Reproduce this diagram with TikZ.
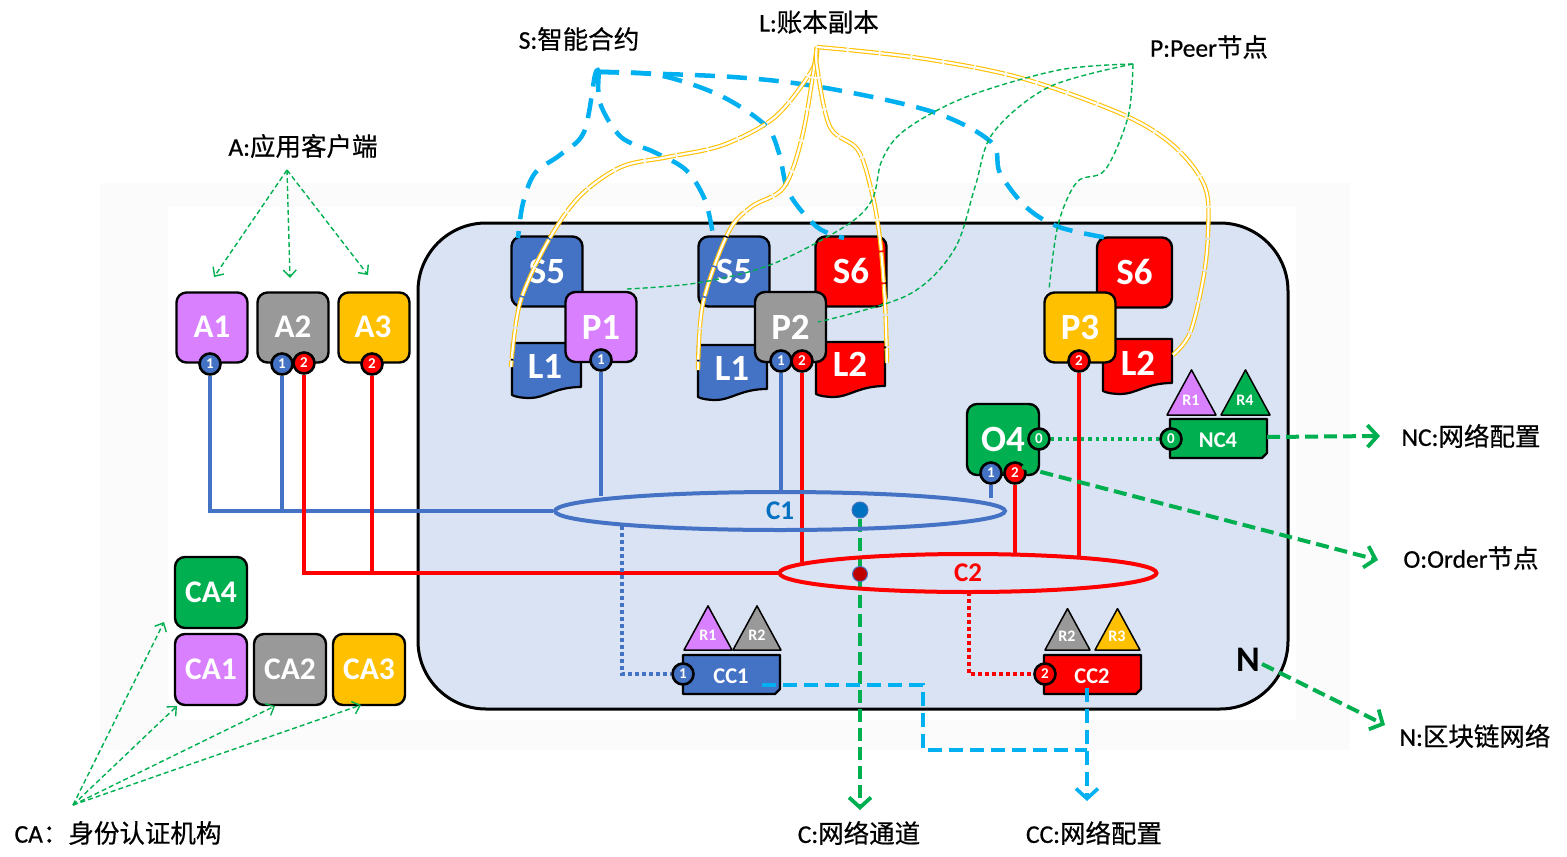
\documentclass[tikz,border=0pt]{standalone}
\usepackage{fontspec}
\setmainfont{Carlito}
\newfontfamily\cjk[FakeBold=0.6]{Noto Sans CJK SC}
\newfontfamily\latlab[FakeBold=0.6]{Carlito}
\usetikzlibrary{shapes.geometric,arrows.meta,calc}
\pgfdeclarelayer{bg}\pgfdeclarelayer{lines}\pgfdeclarelayer{top}
\pgfsetlayers{bg,lines,main,top}
\definecolor{cblue}{HTML}{4472C4}
\definecolor{cpurple}{HTML}{D980FF}
\definecolor{cgray}{HTML}{999999}
\definecolor{cgold}{HTML}{FFC000}
\definecolor{cgreen}{HTML}{00B050}
\definecolor{cred}{HTML}{FF0000}
\definecolor{ccyan}{HTML}{00B0F0}
\definecolor{cpanel}{HTML}{DAE3F3}
\definecolor{cchan}{HTML}{0070C0}
\tikzset{
  boxbase/.style={draw=black,line width=2.4pt,rounded corners=10pt,text=white,font=\fontsize{37}{37}\selectfont\bfseries,inner sep=0pt},
  sbox/.style={boxbase,minimum width=71pt,minimum height=70pt,fill=#1},
  casmall/.style={boxbase,minimum width=72pt,minimum height=71pt,fill=#1,font=\fontsize{31.5}{31.5}\selectfont\bfseries},
  clientname/.style={text=white,font=\fontsize{33}{33}\selectfont\bfseries,inner sep=0pt},
  port/.style={circle,draw=black,line width=2.6pt,minimum size=21pt,inner sep=0pt,fill=#1,text=white,font=\fontsize{15}{15}\selectfont\bfseries},
  doclabel/.style={text=white,font=\fontsize{37}{37}\selectfont\bfseries,inner sep=0pt},
  cardlabel/.style={text=white,font=\fontsize{22.5}{22.5}\selectfont\bfseries,inner sep=0pt},
  rolelabel/.style={text=white,font=\fontsize{16}{16}\selectfont\bfseries,inner sep=0pt},
  shapeline/.style={draw=black,line width=2.2pt,line join=round},
  lab/.style={text=black,font=\fontsize{25.5}{25.5}\selectfont\latlab,inner sep=0pt},
  chanring/.style={ellipse,line width=4pt,inner sep=0pt,font=\fontsize{27}{27}\selectfont\bfseries},
  bluewire/.style={draw=cblue,line width=4pt},
  redwire/.style={draw=cred,line width=4pt},
  cyanthick/.style={draw=ccyan,line width=4.5pt,dash pattern=on 20pt off 12pt},
  cyanpath/.style={draw=ccyan,line width=3.6pt,dash pattern=on 14pt off 7pt},
  greenthick/.style={draw=cgreen,line width=4pt,dash pattern=on 13pt off 6pt,-{Straight Barb[length=10pt,width=22pt,line width=3.8pt]}},
  greenthin/.style={draw=cgreen,line width=1.4pt,dash pattern=on 5pt off 3pt},
  greenarrow/.style={greenthin,-{Straight Barb[length=7pt,width=13pt,line width=1.4pt]}},
  goldline/.style={draw=cgold,line width=1.1pt,double=white,double distance=2.2pt,dash pattern=on 30pt off 2pt},
  curve/.style={smooth,tension=.55},
}
\newcommand{\docsh}[3]{\draw[shapeline,fill=#3,shift={(#1,#2)}] (0,0) -- (69,0) -- (69,44) .. controls (43,44) and (33,55) .. (18,55) .. controls (10,55) and (4,54) .. (0,52) -- cycle;}
\newcommand{\cardsh}[3]{\draw[shapeline,fill=#3,shift={(#1,#2)}] (0,0) -- (97,0) -- (97,34) -- (92,39) -- (0,39) -- cycle;}
\newcommand{\trish}[4]{\draw[draw=black,line width=1.5pt,line join=round,fill=#4] (#1,#3) -- (#2,#3) -- ({(#1+#2)/2},{#3-(#2-#1)*.92}) -- cycle;}
\begin{document}
\begin{tikzpicture}[x=1pt,y=-1pt]
\useasboundingbox (0,0) rectangle (1567,857);
\begin{pgfonlayer}{bg}
  \fill[fill=black!1.5] (100,183) rectangle (1350,750);
  \fill[white] (168,207) rectangle (1296,720);
  \draw[draw=black,line width=3pt,fill=cpanel,rounded corners=68pt] (418,223) rectangle (1288,709);
\end{pgfonlayer}

% clients
\node[sbox=cpurple] (a1) at (212,327.5) {};
\node[sbox=cgray] (a2) at (293,327.5) {};
\node[sbox=cgold] (a3) at (374,327.5) {};
\node[clientname] (a1t) at (212,327) {A1};
\node[clientname] (a2t) at (293,327) {A2};
\node[clientname] (a3t) at (373,327) {A3};

% CAs
\node[casmall=cgreen] (ca4) at (211,592.5) {CA4};
\node[casmall=cpurple] (ca1) at (211,669.5) {CA1};
\node[casmall=cgray] (ca2) at (290,669.5) {CA2};
\node[casmall=cgold] (ca3) at (369,669.5) {CA3};

% organisation 1
\node[sbox=cblue] (s5a) at (547,271.5) {S5};
\docsh{512}{343}{cblue}
\node[doclabel] (l1a) at (545,366) {L1};
\node[sbox=cpurple] (p1) at (601,327) {P1};

% organisation 1/2
\node[sbox=cblue] (s5b) at (734,271.5) {S5};
\node[sbox=cred] (s6a) at (851,271.5) {S6};
\docsh{698}{345}{cblue}
\node[doclabel] (l1b) at (732,368) {L1};
\docsh{816}{342}{cred}
\node[doclabel] (l2a) at (850,364) {L2};
\node[sbox=cgray] (p2) at (790.5,327) {P2};

% organisation 2
\node[sbox=cred,minimum width=75pt] (s6b) at (1134.5,272.5) {S6};
\docsh{1103}{339}{cred}
\node[doclabel] (l2b) at (1138,363) {L2};
\node[sbox=cgold] (p3) at (1080,327.5) {P3};

% orderer
\node[sbox=cgreen,minimum width=72pt,minimum height=71pt] (o4) at (1003,439.5) {O4};

% NC4
\trish{1167}{1216}{415}{cpurple}
\trish{1221}{1270}{415}{cgreen}
\node[rolelabel] (r1n) at (1191,400) {R1};
\node[rolelabel] (r4n) at (1245,400) {R4};
\cardsh{1170}{419}{cgreen}
\node[cardlabel] (nc4) at (1218,440) {NC4};

% CC1
\trish{684}{732}{650}{cpurple}
\trish{733}{781}{650}{cgray}
\node[rolelabel] (r1c) at (708,635) {R1};
\node[rolelabel] (r2c) at (757,635) {R2};
\cardsh{683}{655}{cblue}
\node[cardlabel] (cc1) at (731,676) {CC1};

% CC2
\trish{1045}{1090}{650}{cgray}
\trish{1095}{1140}{650}{cgold}
\node[rolelabel] (r2d) at (1067,636) {R2};
\node[rolelabel] (r3d) at (1117,636) {R3};
\cardsh{1044}{655}{cred}
\node[cardlabel] (cc2) at (1092,676) {CC2};

% ports
\node[port=cblue] (a1p) at (210,364) {1};
\node[port=cblue] (a2p) at (282,364) {1};
\node[port=cred] (a2q) at (304,363) {2};
\node[port=cred] (a3p) at (372,364) {2};
\node[port=cblue] (p1p) at (601,360) {1};
\node[port=cblue] (p2p) at (781,361) {1};
\node[port=cred] (p2q) at (802,361) {2};
\node[port=cred] (p3p) at (1079,361) {2};
\node[port=cgreen] (o4z) at (1039,439) {0};
\node[port=cblue] (o4p) at (991,473) {1};
\node[port=cred] (o4q) at (1015,473) {2};
\node[port=cgreen] (ncz) at (1171,439) {0};
\node[port=cblue] (ccp) at (683,674) {1};
\node[port=cred] (ccq) at (1045,674) {2};

% channels
\node[chanring,draw=cblue,minimum width=450pt,minimum height=38pt,text=cchan] (c1) at (780,511) {C1};
\node[chanring,draw=cred,minimum width=377pt,minimum height=38pt,text=cred] (c2) at (968,573) {C2};
\node[circle,draw=cblue,fill=cchan,line width=1pt,minimum size=16pt,inner sep=0pt] (c1dot) at (860,510) {};
\node[circle,draw=cblue,fill=cred!75!black,line width=1pt,minimum size=15pt,inner sep=0pt] (c2dot) at (860,574) {};

\node[text=black,font=\fontsize{36}{36}\selectfont\bfseries,inner sep=0pt] (nmark) at (1248,660) {N};

% labels
\node[lab] (la) at (303,146) {A:{\cjk 应用客户端}};
\node[lab] (ls) at (579,39) {S:{\cjk 智能合约}};
\node[lab] (ll) at (819,22) {L:{\cjk 账本副本}};
\node[lab] (lp) at (1209,47) {P:Peer{\cjk 节点}};
\node[lab] (lnc) at (1471,436) {NC:{\cjk 网络配置}};
\node[lab] (lo) at (1471,558) {O:Order{\cjk 节点}};
\node[lab] (ln) at (1475,736) {N:{\cjk 区块链网络}};
\node[lab] (lc) at (859,833) {C:{\cjk 网络通道}};
\node[lab] (lcc) at (1094,833) {CC:{\cjk 网络配置}};
\node[lab] (lca) at (118,833) {CA{\cjk ：身份认证机构}};

% named free ends
\coordinate (hubA) at (287,170);
\coordinate (tA1) at (214,277);
\coordinate (tA2) at (290,278);
\coordinate (tA3) at (368,275);
\coordinate (hubCA) at (73,805);
\coordinate (tCA4) at (164,622);
\coordinate (tCA1) at (177,706);
\coordinate (tCA2) at (275,706);
\coordinate (tCA3) at (361,705);
\coordinate (hubS) at (599,72);
\coordinate (hubL) at (817,47);
\coordinate (hubP) at (1133,64);
\coordinate (c1p1) at (601,496);
\coordinate (c1p2) at (781,491);
\coordinate (c1o4) at (991,498);
\coordinate (c2p2) at (802,562);
\coordinate (c2o4) at (1015,555);
\coordinate (c2p3) at (1079,556);
\coordinate (c1low) at (622,526);
\coordinate (c2low) at (969,592);
\coordinate (ncEnd) at (1380,436);
\coordinate (ncStart) at (1267,437);
\coordinate (oStart) at (1022,467);
\coordinate (oEnd) at (1378,560);
\coordinate (nStart) at (1262,664);
\coordinate (nEnd) at (1385,725);
\coordinate (cEnd) at (860,810);
\coordinate (ccaStart) at (762,685);
\coordinate (ccJoin) at (1087,750);
\coordinate (ccbStart) at (1087,688);
\coordinate (ccbEnd) at (1087,801);

\begin{pgfonlayer}{lines}
  \draw[bluewire] (a1p) |- (c1.west);
  \draw[bluewire] (a2p) -- (a2p |- c1.west);
  \draw[bluewire] (p1p) -- (c1p1);
  \draw[bluewire] (p2p) -- (c1p2);
  \draw[bluewire] (o4p) -- (c1o4);
  \draw[redwire] (a2q) |- (c2.west);
  \draw[redwire] (a3p) -- (a3p |- c2.west);
  \draw[redwire] (p2q) -- (c2p2);
  \draw[redwire] (o4q) -- (c2o4);
  \draw[redwire] (p3p) -- (c2p3);
  \draw[draw=cblue,line width=3.4pt,dash pattern=on 3.5pt off 3.5pt] (c1low) |- (ccp);
  \draw[draw=cred,line width=3.4pt,dash pattern=on 3.5pt off 3.5pt] (c2low) |- (ccq);
  \draw[draw=cgreen,line width=3.4pt,dash pattern=on 3.5pt off 4pt] (o4z) -- (ncz);
  \draw[greenthick] (c1dot) -- (cEnd);
\end{pgfonlayer}

\begin{pgfonlayer}{top}
  % thick dashed arrows
  \draw[greenthick] (ncStart) -- (ncEnd);
  \draw[greenthick] (oStart) -- (oEnd);
  \draw[greenthick] (nStart) -- (nEnd);
  % channel config
  \draw[cyanpath] (ccaStart) -| (923,750) -- (ccJoin);
  \draw[cyanpath,-{Straight Barb[length=10pt,width=22pt,line width=3.6pt]}] (ccbStart) -- (ccbEnd);
  % thin arrows
  \draw[greenarrow] (hubA) -- (tA1);
  \draw[greenarrow] (hubA) -- (tA2);
  \draw[greenarrow] (hubA) -- (tA3);
  \draw[greenarrow] (hubCA) -- (tCA4);
  \draw[greenarrow] (hubCA) -- (tCA1);
  \draw[greenarrow] (hubCA) -- (tCA2);
  \draw[greenarrow] (hubCA) -- (tCA3);
  % smart contracts
  \draw[cyanthick] plot[curve] coordinates {(hubS) (595,75) (584,132) (560,155) (535,173) (523,203) (518,238)};
  \draw[cyanthick] plot[curve] coordinates {(hubS) (600,103) (621,137) (654,152) (686,170) (705,200) (713,235)};
  \draw[cyanthick] plot[curve] coordinates {(hubS) (658,75) (719,95) (765,125) (779,153) (789,193) (817,227) (844,238)};
  \draw[cyanthick] plot[curve] coordinates {(hubS) (733,77) (826,88) (933,112) (991,142) (1000,173) (1026,207) (1059,227) (1108,238)};
  % ledgers
  \draw[goldline] plot[curve] coordinates {(hubL) (812,70) (775,117) (723,145) (668,157) (621,167) (579,197) (547,243) (520,303) (511,367)};
  \draw[goldline] plot[curve] coordinates {(hubL) (803,133) (784,187) (751,207) (728,233) (703,303) (698,370)};
  \draw[goldline] plot[curve] coordinates {(hubL) (817,67) (830,127) (858,150) (872,193) (880,240) (885,303) (887,363)};
  \draw[goldline] plot[curve] coordinates {(hubL) (919,58) (1021,78) (1124,115) (1175,147) (1205,187) (1208,233) (1203,280) (1190,333) (1173,355)};
  % peers
  \draw[greenthin] plot[curve] coordinates {(hubP) (1059,70) (966,97) (905,130) (882,160) (872,200) (844,227) (770,265) (697,283) (627,289)};
  \draw[greenthin] plot[curve] coordinates {(hubP) (1049,87) (993,133) (975,187) (954,250) (908,295) (818,322)};
  \draw[greenthin] plot[curve] coordinates {(hubP) (1128,117) (1105,170) (1077,182) (1058,225) (1049,290)};
\end{pgfonlayer}
\end{tikzpicture}
\end{document}
